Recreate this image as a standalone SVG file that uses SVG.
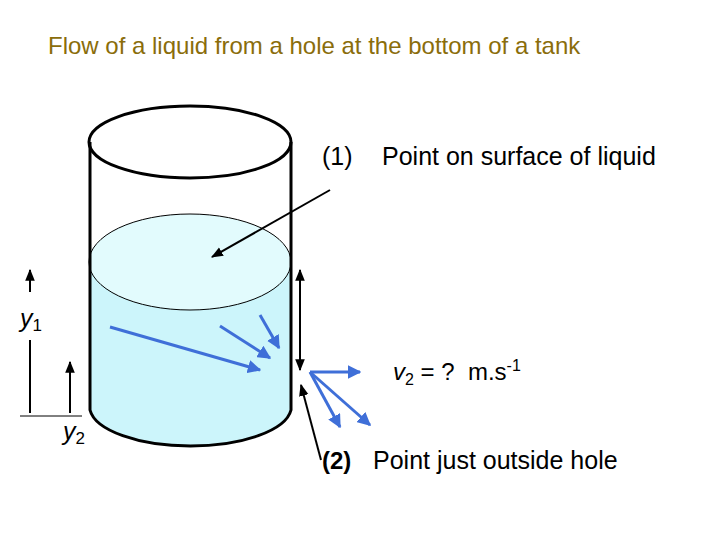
<svg xmlns="http://www.w3.org/2000/svg" width="720" height="540" viewBox="0 0 720 540">
<style>
text{font-family:"Liberation Sans",Arial,sans-serif;font-size:25px;fill:#000}
.blue{stroke:#3f6fd8;stroke-width:3;fill:none;marker-end:url(#ab)}
.blk{stroke:#000;stroke-width:2;fill:none}
</style>
<defs>
<marker id="ab" viewBox="0 0 10 10" refX="9" refY="5" markerWidth="4.5" markerHeight="4.5" orient="auto"><path d="M0,0L10,5L0,10z" fill="#3f6fd8"/></marker>
<marker id="ak" viewBox="0 0 10 10" refX="9" refY="5" markerWidth="6" markerHeight="6" orient="auto-start-reverse"><path d="M0,1L10,5L0,9z" fill="#000"/></marker>
</defs>
<text x="48" y="54" style="fill:#8a6d0b;font-size:24px">Flow of a liquid from a hole at the bottom of a tank</text>
<g id="tank">
<path d="M90,262 L90,410 A101,40 0 0 0 291,410 L291,262 Z" fill="#ccf5fb"/>
<ellipse cx="190" cy="262" rx="101" ry="48" fill="#e2fbfd" stroke="#000" stroke-width="1"/>
<ellipse cx="190" cy="142" rx="101" ry="36" fill="none" stroke="#000" stroke-width="3"/>
<path d="M90,142 L90,410 A101,40 0 0 0 291,410 L291,142" fill="none" stroke="#000" stroke-width="3"/>
</g>
<g id="connectors">
<line x1="330" y1="190" x2="212" y2="257" class="blk" marker-end="url(#ak)"/>
<line x1="300" y1="270" x2="300" y2="370" class="blk" marker-start="url(#ak)" marker-end="url(#ak)"/>
<line x1="321" y1="460" x2="301" y2="385" class="blk" marker-end="url(#ak)"/>
<line x1="30" y1="413" x2="30" y2="340" class="blk"/>
<line x1="30" y1="292" x2="30" y2="270" class="blk" marker-end="url(#ak)"/>
<line x1="70" y1="413" x2="70" y2="362" class="blk" marker-end="url(#ak)"/>
<line x1="20" y1="416" x2="82" y2="416" stroke="#000" stroke-width="1"/>
<line x1="110" y1="327" x2="260" y2="370" class="blue"/>
<line x1="220" y1="326" x2="270" y2="358" class="blue"/>
<line x1="260" y1="315" x2="279" y2="348" class="blue"/>
<line x1="310" y1="372" x2="360" y2="372" class="blue"/>
<line x1="310" y1="372" x2="340" y2="427" class="blue"/>
<line x1="310" y1="372" x2="370" y2="425" class="blue"/>
</g>
<text x="322" y="165">(1)</text>
<text x="382" y="165">Point on surface of liquid</text>
<text x="20" y="327" style="font-style:italic">y<tspan dy="4" style="font-size:17px;font-style:normal">1</tspan></text>
<text x="63" y="440" style="font-style:italic">y<tspan dy="4" style="font-size:17px;font-style:normal">2</tspan></text>
<text x="393" y="380" xml:space="preserve" style="font-size:24px"><tspan style="font-style:italic">v</tspan><tspan dy="5" style="font-size:16px">2</tspan><tspan dy="-5"> = ?  m.s</tspan><tspan dy="-9" style="font-size:16px">-1</tspan></text>
<text x="322" y="469" style="font-weight:bold;font-size:24px">(2)</text>
<text x="373" y="469">Point just outside hole</text>
</svg>
